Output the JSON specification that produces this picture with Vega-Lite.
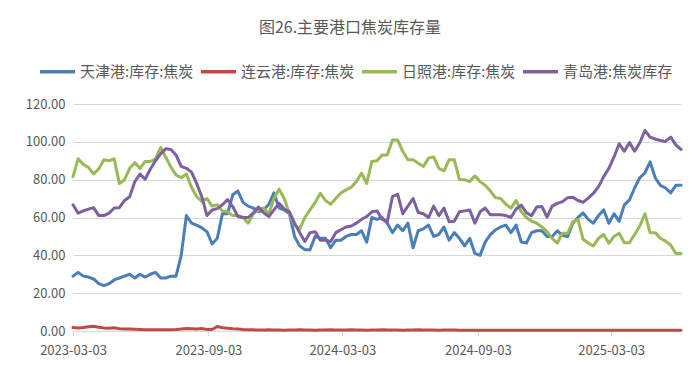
{
  "$schema": "https://vega.github.io/schema/vega-lite/v6.json",
  "width": 608,
  "height": 227,
  "autosize": {"type": "none"},
  "padding": {"left": 73, "top": 104, "right": 19, "bottom": 41},
  "background": "white",
  "title": {
    "text": "图26.主要港口焦炭库存量",
    "font": "Noto Sans CJK SC",
    "fontSize": 16,
    "fontWeight": "normal",
    "color": "#595959",
    "anchor": "middle",
    "frame": "group",
    "dx": -27,
    "offset": 16
  },
  "config": {
    "font": "Noto Sans CJK SC",
    "view": {"stroke": null}
  },
  "data": {
    "values": [
      {"d":"2023-03-03","天津港:库存:焦炭":29,"连云港:库存:焦炭":1.8,"日照港:库存:焦炭":81.6,"青岛港:焦炭库存":66.7},
      {"d":"2023-03-10","天津港:库存:焦炭":31,"连云港:库存:焦炭":1.6,"日照港:库存:焦炭":91,"青岛港:焦炭库存":62.3},
      {"d":"2023-03-17","天津港:库存:焦炭":29,"连云港:库存:焦炭":1.9,"日照港:库存:焦炭":88,"青岛港:焦炭库存":63.5},
      {"d":"2023-03-24","天津港:库存:焦炭":28.5,"连云港:库存:焦炭":2.3,"日照港:库存:焦炭":86.5,"青岛港:焦炭库存":64.4},
      {"d":"2023-03-31","天津港:库存:焦炭":27.5,"连云港:库存:焦炭":2.5,"日照港:库存:焦炭":83,"青岛港:焦炭库存":65.2},
      {"d":"2023-04-07","天津港:库存:焦炭":25,"连云港:库存:焦炭":2.0,"日照港:库存:焦炭":85.7,"青岛港:焦炭库存":61},
      {"d":"2023-04-14","天津港:库存:焦炭":24,"连云港:库存:焦炭":1.6,"日照港:库存:焦炭":90.5,"青岛港:焦炭库存":61},
      {"d":"2023-04-21","天津港:库存:焦炭":25,"连云港:库存:焦炭":1.5,"日照港:库存:焦炭":90,"青岛港:焦炭库存":62.3},
      {"d":"2023-04-28","天津港:库存:焦炭":27,"连云港:库存:焦炭":1.7,"日照港:库存:焦炭":91,"青岛港:焦炭库存":65},
      {"d":"2023-05-05","天津港:库存:焦炭":28,"连云港:库存:焦炭":1.2,"日照港:库存:焦炭":78,"青岛港:焦炭库存":65.2},
      {"d":"2023-05-12","天津港:库存:焦炭":29,"连云港:库存:焦炭":1.0,"日照港:库存:焦炭":80,"青岛港:焦炭库存":69},
      {"d":"2023-05-19","天津港:库存:焦炭":30,"连云港:库存:焦炭":1.0,"日照港:库存:焦炭":86,"青岛港:焦炭库存":71},
      {"d":"2023-05-26","天津港:库存:焦炭":28,"连云港:库存:焦炭":0.9,"日照港:库存:焦炭":89,"青岛港:焦炭库存":79},
      {"d":"2023-06-02","天津港:库存:焦炭":30,"连云港:库存:焦炭":0.8,"日照港:库存:焦炭":86,"青岛港:焦炭库存":83},
      {"d":"2023-06-09","天津港:库存:焦炭":28.5,"连云港:库存:焦炭":0.7,"日照港:库存:焦炭":89.6,"青岛港:焦炭库存":80.2},
      {"d":"2023-06-16","天津港:库存:焦炭":30,"连云港:库存:焦炭":0.7,"日照港:库存:焦炭":89.6,"青岛港:焦炭库存":85.5},
      {"d":"2023-06-23","天津港:库存:焦炭":31,"连云港:库存:焦炭":0.7,"日照港:库存:焦炭":91,"青岛港:焦炭库存":90},
      {"d":"2023-06-30","天津港:库存:焦炭":28,"连云港:库存:焦炭":0.7,"日照港:库存:焦炭":97,"青岛港:焦炭库存":93.6},
      {"d":"2023-07-07","天津港:库存:焦炭":28,"连云港:库存:焦炭":0.7,"日照港:库存:焦炭":92,"青岛港:焦炭库存":96.3},
      {"d":"2023-07-14","天津港:库存:焦炭":29,"连云港:库存:焦炭":0.7,"日照港:库存:焦炭":86.6,"青岛港:焦炭库存":96},
      {"d":"2023-07-21","天津港:库存:焦炭":29,"连云港:库存:焦炭":0.8,"日照港:库存:焦炭":82.5,"青岛港:焦炭库存":93},
      {"d":"2023-07-28","天津港:库存:焦炭":40,"连云港:库存:焦炭":1.0,"日照港:库存:焦炭":81,"青岛港:焦炭库存":87},
      {"d":"2023-08-04","天津港:库存:焦炭":61,"连云港:库存:焦炭":1.3,"日照港:库存:焦炭":83,"青岛港:焦炭库存":86},
      {"d":"2023-08-11","天津港:库存:焦炭":57,"连云港:库存:焦炭":1.2,"日照港:库存:焦炭":76,"青岛港:焦炭库存":84},
      {"d":"2023-08-18","天津港:库存:焦炭":56,"连云港:库存:焦炭":1.0,"日照港:库存:焦炭":71,"青岛港:焦炭库存":78},
      {"d":"2023-08-25","天津港:库存:焦炭":54.5,"连云港:库存:焦炭":1.3,"日照港:库存:焦炭":68.5,"青岛港:焦炭库存":71},
      {"d":"2023-09-01","天津港:库存:焦炭":52.5,"连云港:库存:焦炭":0.8,"日照港:库存:焦炭":70,"青岛港:焦炭库存":61},
      {"d":"2023-09-08","天津港:库存:焦炭":46,"连云港:库存:焦炭":0.8,"日照港:库存:焦炭":66,"青岛港:焦炭库存":64},
      {"d":"2023-09-15","天津港:库存:焦炭":49,"连云港:库存:焦炭":2.4,"日照港:库存:焦炭":66.7,"青岛港:焦炭库存":64.7},
      {"d":"2023-09-22","天津港:库存:焦炭":62,"连云港:库存:焦炭":1.7,"日照港:库存:焦炭":63.5,"青岛港:焦炭库存":66.7},
      {"d":"2023-09-29","天津港:库存:焦炭":62,"连云港:库存:焦炭":1.5,"日照港:库存:焦炭":63,"青岛港:焦炭库存":69.5},
      {"d":"2023-10-06","天津港:库存:焦炭":72,"连云港:库存:焦炭":1.2,"日照港:库存:焦炭":61,"青岛港:焦炭库存":65.8},
      {"d":"2023-10-13","天津港:库存:焦炭":74,"连云港:库存:焦炭":1.0,"日照港:库存:焦炭":61,"青岛港:焦炭库存":60.5},
      {"d":"2023-10-20","天津港:库存:焦炭":68,"连云港:库存:焦炭":0.8,"日照港:库存:焦炭":60,"青岛港:焦炭库存":60},
      {"d":"2023-10-27","天津港:库存:焦炭":66,"连云港:库存:焦炭":0.7,"日照港:库存:焦炭":57,"青岛港:焦炭库存":60},
      {"d":"2023-11-03","天津港:库存:焦炭":65,"连云港:库存:焦炭":0.6,"日照港:库存:焦炭":62,"青岛港:焦炭库存":62.5},
      {"d":"2023-11-10","天津港:库存:焦炭":63,"连云港:库存:焦炭":0.5,"日照港:库存:焦炭":64,"青岛港:焦炭库存":65.5},
      {"d":"2023-11-17","天津港:库存:焦炭":64,"连云港:库存:焦炭":0.5,"日照港:库存:焦炭":65,"青岛港:焦炭库存":62.5},
      {"d":"2023-11-24","天津港:库存:焦炭":67,"连云港:库存:焦炭":0.6,"日照港:库存:焦炭":62,"青岛港:焦炭库存":60.5},
      {"d":"2023-12-01","天津港:库存:焦炭":73,"连云港:库存:焦炭":0.5,"日照港:库存:焦炭":70,"青岛港:焦炭库存":64},
      {"d":"2023-12-08","天津港:库存:焦炭":65,"连云港:库存:焦炭":0.5,"日照港:库存:焦炭":75,"青岛港:焦炭库存":67.5},
      {"d":"2023-12-15","天津港:库存:焦炭":64,"连云港:库存:焦炭":0.4,"日照港:库存:焦炭":70,"青岛港:焦炭库存":64.5},
      {"d":"2023-12-22","天津港:库存:焦炭":62,"连云港:库存:焦炭":0.5,"日照港:库存:焦炭":62,"青岛港:焦炭库存":63},
      {"d":"2023-12-29","天津港:库存:焦炭":50,"连云港:库存:焦炭":0.5,"日照港:库存:焦炭":56,"青岛港:焦炭库存":57},
      {"d":"2024-01-05","天津港:库存:焦炭":45,"连云港:库存:焦炭":0.6,"日照港:库存:焦炭":54,"青岛港:焦炭库存":52},
      {"d":"2024-01-12","天津港:库存:焦炭":43,"连云港:库存:焦炭":0.5,"日照港:库存:焦炭":60,"青岛港:焦炭库存":47.3},
      {"d":"2024-01-19","天津港:库存:焦炭":43,"连云港:库存:焦炭":0.5,"日照港:库存:焦炭":64,"青岛港:焦炭库存":52},
      {"d":"2024-01-26","天津港:库存:焦炭":50,"连云港:库存:焦炭":0.4,"日照港:库存:焦炭":68,"青岛港:焦炭库存":52.5},
      {"d":"2024-02-02","天津港:库存:焦炭":49,"连云港:库存:焦炭":0.5,"日照港:库存:焦炭":72.8,"青岛港:焦炭库存":48},
      {"d":"2024-02-09","天津港:库存:焦炭":49,"连云港:库存:焦炭":0.5,"日照港:库存:焦炭":69,"青岛港:焦炭库存":48},
      {"d":"2024-02-16","天津港:库存:焦炭":44,"连云港:库存:焦炭":0.6,"日照港:库存:焦炭":67,"青岛港:焦炭库存":47.3},
      {"d":"2024-02-23","天津港:库存:焦炭":48,"连云港:库存:焦炭":0.5,"日照港:库存:焦炭":70,"青岛港:焦炭库存":52},
      {"d":"2024-03-01","天津港:库存:焦炭":48,"连云港:库存:焦炭":0.5,"日照港:库存:焦炭":73,"青岛港:焦炭库存":53.5},
      {"d":"2024-03-08","天津港:库存:焦炭":50,"连云港:库存:焦炭":0.5,"日照港:库存:焦炭":74.6,"青岛港:焦炭库存":55},
      {"d":"2024-03-15","天津港:库存:焦炭":51,"连云港:库存:焦炭":0.6,"日照港:库存:焦炭":76,"青岛港:焦炭库存":55.5},
      {"d":"2024-03-22","天津港:库存:焦炭":51,"连云港:库存:焦炭":0.5,"日照港:库存:焦炭":79,"青岛港:焦炭库存":57},
      {"d":"2024-03-29","天津港:库存:焦炭":53,"连云港:库存:焦炭":0.5,"日照港:库存:焦炭":83.4,"青岛港:焦炭库存":59},
      {"d":"2024-04-05","天津港:库存:焦炭":47,"连云港:库存:焦炭":0.4,"日照港:库存:焦炭":78,"青岛港:焦炭库存":60.5},
      {"d":"2024-04-12","天津港:库存:焦炭":60,"连云港:库存:焦炭":0.5,"日照港:库存:焦炭":89.6,"青岛港:焦炭库存":63},
      {"d":"2024-04-19","天津港:库存:焦炭":59,"连云港:库存:焦炭":0.5,"日照港:库存:焦炭":90,"青岛港:焦炭库存":63.5},
      {"d":"2024-04-26","天津港:库存:焦炭":60,"连云港:库存:焦炭":0.6,"日照港:库存:焦炭":93,"青岛港:焦炭库存":59},
      {"d":"2024-05-03","天津港:库存:焦炭":57,"连云港:库存:焦炭":0.5,"日照港:库存:焦炭":93,"青岛港:焦炭库存":57.8},
      {"d":"2024-05-10","天津港:库存:焦炭":52,"连云港:库存:焦炭":0.5,"日照港:库存:焦炭":101,"青岛港:焦炭库存":71},
      {"d":"2024-05-17","天津港:库存:焦炭":56,"连云港:库存:焦炭":0.5,"日照港:库存:焦炭":101,"青岛港:焦炭库存":72.3},
      {"d":"2024-05-24","天津港:库存:焦炭":53,"连云港:库存:焦炭":0.4,"日照港:库存:焦炭":95,"青岛港:焦炭库存":62},
      {"d":"2024-05-31","天津港:库存:焦炭":57,"连云港:库存:焦炭":0.5,"日照港:库存:焦炭":90.5,"青岛港:焦炭库存":66},
      {"d":"2024-06-07","天津港:库存:焦炭":44,"连云港:库存:焦炭":0.5,"日照港:库存:焦炭":90.5,"青岛港:焦炭库存":70},
      {"d":"2024-06-14","天津港:库存:焦炭":53,"连云港:库存:焦炭":0.6,"日照港:库存:焦炭":88.7,"青岛港:焦炭库存":62.6},
      {"d":"2024-06-21","天津港:库存:焦炭":54,"连云港:库存:焦炭":0.5,"日照港:库存:焦炭":87,"青岛港:焦炭库存":62},
      {"d":"2024-06-28","天津港:库存:焦炭":56,"连云港:库存:焦炭":0.5,"日照港:库存:焦炭":91.4,"青岛港:焦炭库存":60},
      {"d":"2024-07-05","天津港:库存:焦炭":50,"连云港:库存:焦炭":0.5,"日照港:库存:焦炭":92,"青岛港:焦炭库存":66},
      {"d":"2024-07-12","天津港:库存:焦炭":51,"连云港:库存:焦炭":0.4,"日照港:库存:焦炭":86,"青岛港:焦炭库存":61},
      {"d":"2024-07-19","天津港:库存:焦炭":55,"连云港:库存:焦炭":0.5,"日照港:库存:焦炭":84.7,"青岛港:焦炭库存":65},
      {"d":"2024-07-26","天津港:库存:焦炭":48,"连云港:库存:焦炭":0.5,"日照港:库存:焦炭":90.5,"青岛港:焦炭库存":57.8},
      {"d":"2024-08-02","天津港:库存:焦炭":52,"连云港:库存:焦炭":0.5,"日照港:库存:焦炭":90.5,"青岛港:焦炭库存":58},
      {"d":"2024-08-09","天津港:库存:焦炭":49,"连云港:库存:焦炭":0.4,"日照港:库存:焦炭":80,"青岛港:焦炭库存":63},
      {"d":"2024-08-16","天津港:库存:焦炭":45,"连云港:库存:焦炭":0.4,"日照港:库存:焦炭":80,"青岛港:焦炭库存":63.5},
      {"d":"2024-08-23","天津港:库存:焦炭":49,"连云港:库存:焦炭":0.4,"日照港:库存:焦炭":79,"青岛港:焦炭库存":64},
      {"d":"2024-08-30","天津港:库存:焦炭":41,"连云港:库存:焦炭":0.4,"日照港:库存:焦炭":82,"青岛港:焦炭库存":57},
      {"d":"2024-09-06","天津港:库存:焦炭":40,"连云港:库存:焦炭":0.4,"日照港:库存:焦炭":79,"青岛港:焦炭库存":63},
      {"d":"2024-09-13","天津港:库存:焦炭":47,"连云港:库存:焦炭":0.4,"日照港:库存:焦炭":77,"青岛港:焦炭库存":65},
      {"d":"2024-09-20","天津港:库存:焦炭":51,"连云港:库存:焦炭":0.4,"日照港:库存:焦炭":74,"青岛港:焦炭库存":61.4},
      {"d":"2024-09-27","天津港:库存:焦炭":53.5,"连云港:库存:焦炭":0.4,"日照港:库存:焦炭":70.5,"青岛港:焦炭库存":61.4},
      {"d":"2024-10-04","天津港:库存:焦炭":55,"连云港:库存:焦炭":0.4,"日照港:库存:焦炭":70,"青岛港:焦炭库存":61.4},
      {"d":"2024-10-11","天津港:库存:焦炭":56,"连云港:库存:焦炭":0.4,"日照港:库存:焦炭":67,"青岛港:焦炭库存":61},
      {"d":"2024-10-18","天津港:库存:焦炭":52,"连云港:库存:焦炭":0.4,"日照港:库存:焦炭":65,"青岛港:焦炭库存":60},
      {"d":"2024-10-25","天津港:库存:焦炭":56,"连云港:库存:焦炭":0.4,"日照港:库存:焦炭":69,"青岛港:焦炭库存":64.5},
      {"d":"2024-11-01","天津港:库存:焦炭":47,"连云港:库存:焦炭":0.4,"日照港:库存:焦炭":63,"青岛港:焦炭库存":66.5},
      {"d":"2024-11-08","天津港:库存:焦炭":46.5,"连云港:库存:焦炭":0.4,"日照港:库存:焦炭":60,"青岛港:焦炭库存":62.5},
      {"d":"2024-11-15","天津港:库存:焦炭":52,"连云港:库存:焦炭":0.4,"日照港:库存:焦炭":58,"青岛港:焦炭库存":61},
      {"d":"2024-11-22","天津港:库存:焦炭":53,"连云港:库存:焦炭":0.4,"日照港:库存:焦炭":57,"青岛港:焦炭库存":65.5},
      {"d":"2024-11-29","天津港:库存:焦炭":53,"连云港:库存:焦炭":0.4,"日照港:库存:焦炭":55,"青岛港:焦炭库存":65.8},
      {"d":"2024-12-06","天津港:库存:焦炭":50,"连云港:库存:焦炭":0.4,"日照港:库存:焦炭":52.5,"青岛港:焦炭库存":60.2},
      {"d":"2024-12-13","天津港:库存:焦炭":50,"连云港:库存:焦炭":0.4,"日照港:库存:焦炭":49,"青岛港:焦炭库存":66},
      {"d":"2024-12-20","天津港:库存:焦炭":53,"连云港:库存:焦炭":0.4,"日照港:库存:焦炭":46.5,"青岛港:焦炭库存":67.5},
      {"d":"2024-12-27","天津港:库存:焦炭":50.5,"连云港:库存:焦炭":0.4,"日照港:库存:焦炭":51.7,"青岛港:焦炭库存":68.4},
      {"d":"2025-01-03","天津港:库存:焦炭":50,"连云港:库存:焦炭":0.4,"日照港:库存:焦炭":51.7,"青岛港:焦炭库存":70.5},
      {"d":"2025-01-10","天津港:库存:焦炭":57,"连云港:库存:焦炭":0.4,"日照港:库存:焦炭":57.8,"青岛港:焦炭库存":70.7},
      {"d":"2025-01-17","天津港:库存:焦炭":60,"连云港:库存:焦炭":0.4,"日照港:库存:焦炭":59,"青岛港:焦炭库存":69},
      {"d":"2025-01-24","天津港:库存:焦炭":62.4,"连云港:库存:焦炭":0.4,"日照港:库存:焦炭":48.5,"青岛港:焦炭库存":68},
      {"d":"2025-01-31","天津港:库存:焦炭":59,"连云港:库存:焦炭":0.4,"日照港:库存:焦炭":46.5,"青岛港:焦炭库存":70.2},
      {"d":"2025-02-07","天津港:库存:焦炭":57,"连云港:库存:焦炭":0.4,"日照港:库存:焦炭":45,"青岛港:焦炭库存":72.8},
      {"d":"2025-02-14","天津港:库存:焦炭":61,"连云港:库存:焦炭":0.4,"日照港:库存:焦炭":49,"青岛港:焦炭库存":76.3},
      {"d":"2025-02-21","天津港:库存:焦炭":64,"连云港:库存:焦炭":0.4,"日照港:库存:焦炭":51,"青岛港:焦炭库存":81.6},
      {"d":"2025-02-28","天津港:库存:焦炭":57,"连云港:库存:焦炭":0.4,"日照港:库存:焦炭":46.4,"青岛港:焦炭库存":86},
      {"d":"2025-03-07","天津港:库存:焦炭":62,"连云港:库存:焦炭":0.4,"日照港:库存:焦炭":50,"青岛港:焦炭库存":92},
      {"d":"2025-03-14","天津港:库存:焦炭":58,"连云港:库存:焦炭":0.4,"日照港:库存:焦炭":51.7,"青岛港:焦炭库存":99},
      {"d":"2025-03-21","天津港:库存:焦炭":66.7,"连云港:库存:焦炭":0.4,"日照港:库存:焦炭":46.7,"青岛港:焦炭库存":95},
      {"d":"2025-03-28","天津港:库存:焦炭":69.3,"连云港:库存:焦炭":0.4,"日照港:库存:焦炭":46.7,"青岛港:焦炭库存":99.6},
      {"d":"2025-04-04","天津港:库存:焦炭":75.6,"连云港:库存:焦炭":0.4,"日照港:库存:焦炭":51,"青岛港:焦炭库存":95},
      {"d":"2025-04-11","天津港:库存:焦炭":81,"连云港:库存:焦炭":0.4,"日照港:库存:焦炭":55.5,"青岛港:焦炭库存":99.5},
      {"d":"2025-04-18","天津港:库存:焦炭":83.6,"连云港:库存:焦炭":0.4,"日照港:库存:焦炭":62,"青岛港:焦炭库存":106},
      {"d":"2025-04-25","天津港:库存:焦炭":89.4,"连云港:库存:焦炭":0.4,"日照港:库存:焦炭":52,"青岛港:焦炭库存":102.5},
      {"d":"2025-05-02","天津港:库存:焦炭":81,"连云港:库存:焦炭":0.4,"日照港:库存:焦炭":52,"青岛港:焦炭库存":101.5},
      {"d":"2025-05-09","天津港:库存:焦炭":77,"连云港:库存:焦炭":0.4,"日照港:库存:焦炭":49,"青岛港:焦炭库存":100.7},
      {"d":"2025-05-16","天津港:库存:焦炭":75.6,"连云港:库存:焦炭":0.4,"日照港:库存:焦炭":47.5,"青岛港:焦炭库存":100.2},
      {"d":"2025-05-23","天津港:库存:焦炭":73,"连云港:库存:焦炭":0.4,"日照港:库存:焦炭":45.5,"青岛港:焦炭库存":102.5},
      {"d":"2025-05-30","天津港:库存:焦炭":77,"连云港:库存:焦炭":0.4,"日照港:库存:焦炭":41,"青岛港:焦炭库存":98.4},
      {"d":"2025-06-06","天津港:库存:焦炭":77,"连云港:库存:焦炭":0.4,"日照港:库存:焦炭":41,"青岛港:焦炭库存":96}
    ]
  },
  "transform": [
    {"fold": ["天津港:库存:焦炭", "连云港:库存:焦炭", "日照港:库存:焦炭", "青岛港:焦炭库存"], "as": ["series", "value"]}
  ],
  "mark": {"type": "line", "strokeWidth": 3, "strokeJoin": "round", "strokeCap": "round", "clip": false},
  "encoding": {
    "x": {
      "field": "d",
      "type": "temporal",
      "scale": {
        "type": "utc",
        "domain": [
          {"year": 2023, "month": 3, "date": 3, "utc": true},
          {"year": 2025, "month": 6, "date": 6, "utc": true}
        ]
      },
      "axis": {
        "title": null,
        "values": [
          {"year": 2023, "month": 3, "date": 3, "utc": true},
          {"year": 2023, "month": 9, "date": 3, "utc": true},
          {"year": 2024, "month": 3, "date": 3, "utc": true},
          {"year": 2024, "month": 9, "date": 3, "utc": true},
          {"year": 2025, "month": 3, "date": 3, "utc": true}
        ],
        "format": "%Y-%m-%d",
        "grid": false,
        "domainColor": "#d9d9d9",
        "domainWidth": 1,
        "tickColor": "#d9d9d9",
        "tickSize": 5,
        "labelColor": "#595959",
        "labelFontSize": 13,
        "labelPadding": 8,
        "labelFlush": false,
        "labelOverlap": false
      }
    },
    "y": {
      "field": "value",
      "type": "quantitative",
      "scale": {"domain": [0, 120], "nice": false},
      "axis": {
        "title": null,
        "values": [0, 20, 40, 60, 80, 100, 120],
        "format": ".2f",
        "grid": true,
        "gridColor": "#d9d9d9",
        "domain": false,
        "ticks": false,
        "labelColor": "#595959",
        "labelFontSize": 13,
        "labelPadding": 8
      }
    },
    "color": {
      "field": "series",
      "type": "nominal",
      "scale": {
        "domain": ["天津港:库存:焦炭", "连云港:库存:焦炭", "日照港:库存:焦炭", "青岛港:焦炭库存"],
        "range": ["#4A7EBB", "#BE4B48", "#98B954", "#7D60A0"]
      },
      "legend": {
        "title": null,
        "orient": "none",
        "direction": "horizontal",
        "legendX": -35,
        "legendY": -52,
        "symbolType": "stroke",
        "symbolSize": 1225,
        "symbolStrokeWidth": 3.5,
        "labelFontSize": 15,
        "labelColor": "#595959",
        "labelOffset": 3,
        "columnPadding": 0,
        "labelLimit": 300
      }
    }
  }
}
